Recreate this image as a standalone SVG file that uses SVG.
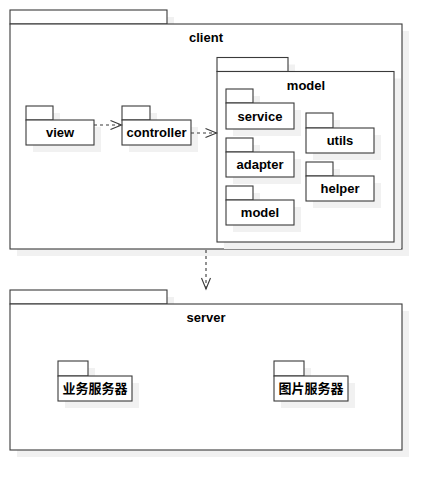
<svg xmlns="http://www.w3.org/2000/svg" width="442" height="490" viewBox="0 0 442 490">
<defs>
<style>
.sh{fill:#f1f1f1;stroke:none}
.pk{fill:#fff;stroke:#3a3a3a;stroke-width:1.1}
.lb{font-family:"Liberation Sans",Arial,sans-serif;font-weight:bold;font-size:13px;fill:#000;text-anchor:middle}
.cjk{font-family:"Liberation Sans","Noto Sans CJK SC",sans-serif;font-weight:bold;font-size:13px;fill:#000;text-anchor:middle}
.dep{fill:none;stroke:#3a3a3a;stroke-width:1.1;stroke-dasharray:3,3}
</style>
<marker id="open" markerUnits="userSpaceOnUse" markerWidth="14" markerHeight="12" viewBox="0 0 14 12" refX="12" refY="6" orient="auto">
<polyline points="1,1.5 12,6 1,10.5" fill="none" stroke="#3a3a3a" stroke-width="1.1"/>
</marker>
</defs>
<rect width="442" height="490" fill="#fff"/>

<g id="client">
<path class="sh" d="M17,17H174V31H409V256H17Z"/>
<rect class="pk" x="10" y="10" width="157" height="14"/>
<rect class="pk" x="10" y="24" width="392" height="225"/>
<text class="lb" x="206" y="42">client</text>
</g>

<g id="model-pkg">
<path class="sh" d="M224,64.5H295V78.5H401V249H224Z"/>
<rect class="pk" x="217" y="57.5" width="71" height="14"/>
<rect class="pk" x="217" y="71.5" width="177" height="170.5"/>
<text class="lb" x="306" y="90">model</text>
</g>

<g id="view">
<path class="sh" d="M33,113H60V127H101V152H33Z"/>
<rect class="pk" x="26" y="106" width="27" height="14"/>
<rect class="pk" x="26" y="120" width="68" height="25"/>
<text class="lb" x="60" y="137">view</text>
</g>

<g id="controller">
<path class="sh" d="M129,113H157V127H198V152H129Z"/>
<rect class="pk" x="122" y="106" width="28" height="14"/>
<rect class="pk" x="122" y="120" width="69" height="25"/>
<text class="lb" x="156.5" y="137">controller</text>
</g>

<g id="service">
<path class="sh" d="M233,96H260V110H301V136H233Z"/>
<rect class="pk" x="226" y="89" width="27" height="14"/>
<rect class="pk" x="226" y="103" width="68" height="26"/>
<text class="lb" x="260" y="121">service</text>
</g>

<g id="adapter">
<path class="sh" d="M233,145H260V159H301V184H233Z"/>
<rect class="pk" x="226" y="138" width="27" height="14"/>
<rect class="pk" x="226" y="152" width="68" height="25"/>
<text class="lb" x="260" y="169">adapter</text>
</g>

<g id="model-inner">
<path class="sh" d="M233,193H260V207H301V232H233Z"/>
<rect class="pk" x="226" y="186" width="27" height="14"/>
<rect class="pk" x="226" y="200" width="68" height="25"/>
<text class="lb" x="260" y="217">model</text>
</g>

<g id="utils">
<path class="sh" d="M313,120H340V135H381V160H313Z"/>
<rect class="pk" x="306" y="113" width="27" height="15"/>
<rect class="pk" x="306" y="128" width="68" height="25"/>
<text class="lb" x="340" y="145">utils</text>
</g>

<g id="helper">
<path class="sh" d="M313,169H340V183H381V208H313Z"/>
<rect class="pk" x="306" y="162" width="27" height="14"/>
<rect class="pk" x="306" y="176" width="68" height="25"/>
<text class="lb" x="340" y="193">helper</text>
</g>

<g id="server">
<path class="sh" d="M17,297H174V311H409V457H17Z"/>
<rect class="pk" x="10" y="290" width="157" height="14"/>
<rect class="pk" x="10" y="304" width="392" height="146"/>
<text class="lb" x="206" y="322">server</text>
</g>

<g id="business-server">
<path class="sh" d="M65,368H95V383H139V408H65Z"/>
<rect class="pk" x="58" y="361" width="30" height="15"/>
<rect class="pk" x="58" y="376" width="74" height="25"/>
<text class="cjk" x="95" y="393">业务服务器</text>
</g>

<g id="image-server">
<path class="sh" d="M281,368H311V383H355V408H281Z"/>
<rect class="pk" x="274" y="361" width="30" height="15"/>
<rect class="pk" x="274" y="376" width="74" height="25"/>
<text class="cjk" x="311" y="393">图片服务器</text>
</g>

<g id="connectors">
<line class="dep" x1="94" y1="125" x2="121.5" y2="125" marker-end="url(#open)"/>
<line class="dep" x1="191" y1="133" x2="216.5" y2="133" marker-end="url(#open)"/>
<line class="dep" x1="206" y1="250" x2="206" y2="289" marker-end="url(#open)"/>
</g>
</svg>
